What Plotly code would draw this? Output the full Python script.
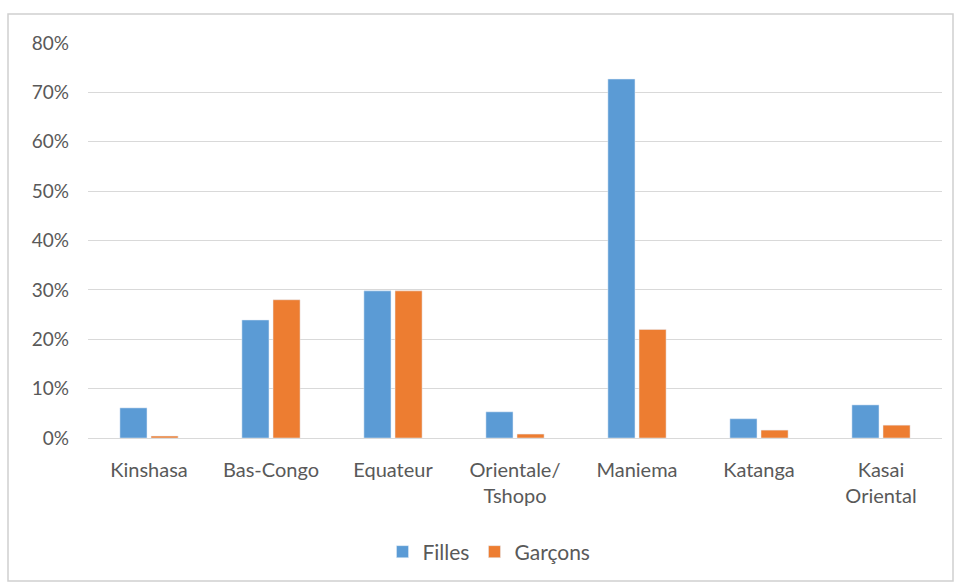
import plotly.graph_objects as go

categories = ["Kinshasa", "Bas-Congo", "Equateur", "Orientale/<br>Tshopo", "Maniema", "Katanga", "Kasai<br>Oriental"]
filles = [0.061, 0.239, 0.298, 0.053, 0.727, 0.039, 0.067]
garcons = [0.004, 0.280, 0.298, 0.008, 0.220, 0.016, 0.026]
y_ticks = [0, 0.1, 0.2, 0.3, 0.4, 0.5, 0.6, 0.7, 0.8]

W, H = 962, 587
L, R, T, B = 88, 20, 43, 149
pw, ph = W - L - R, H - T - B

def px_x(p):
    return (p - L) / pw

def px_y(p):
    return (H - B - p) / ph

fig = go.Figure()
fig.add_trace(go.Bar(name="Filles", x=categories, y=filles, marker_color="#5B9BD5"))
fig.add_trace(go.Bar(name="Garçons", x=categories, y=garcons, marker_color="#ED7D31"))

font = dict(family="Lato, 'Open Sans', sans-serif", size=19, color="#595959")

fig.update_layout(
    width=W, height=H,
    margin=dict(l=L, r=R, t=T, b=B),
    paper_bgcolor="white", plot_bgcolor="white",
    barmode="group", bargap=0.49, bargroupgap=0.13,
    font=font,
    showlegend=True,
    legend=dict(orientation="h", x=px_x(489), xanchor="center", y=px_y(552), yanchor="middle",
                font=dict(size=21, color="#595959"), itemwidth=30, traceorder="normal"),
    xaxis=dict(showgrid=False, showline=True, linecolor="#d9d9d9", linewidth=1,
               ticks="", tickfont=dict(size=20), ticklabelstandoff=14),
    yaxis=dict(range=[0, 0.8], tickvals=y_ticks, tickformat=".0%", showgrid=True,
               gridcolor="#d9d9d9", gridwidth=1, zeroline=False, showline=False,
               ticks="", tickfont=dict(size=19), ticklabelstandoff=18),
    shapes=[dict(type="rect", xref="paper", yref="paper",
                 x0=px_x(8), x1=px_x(953), y0=px_y(581), y1=px_y(14),
                 line=dict(color="#d0d0d0", width=1.5), layer="below")],
)

fig.write_html("out.html")
